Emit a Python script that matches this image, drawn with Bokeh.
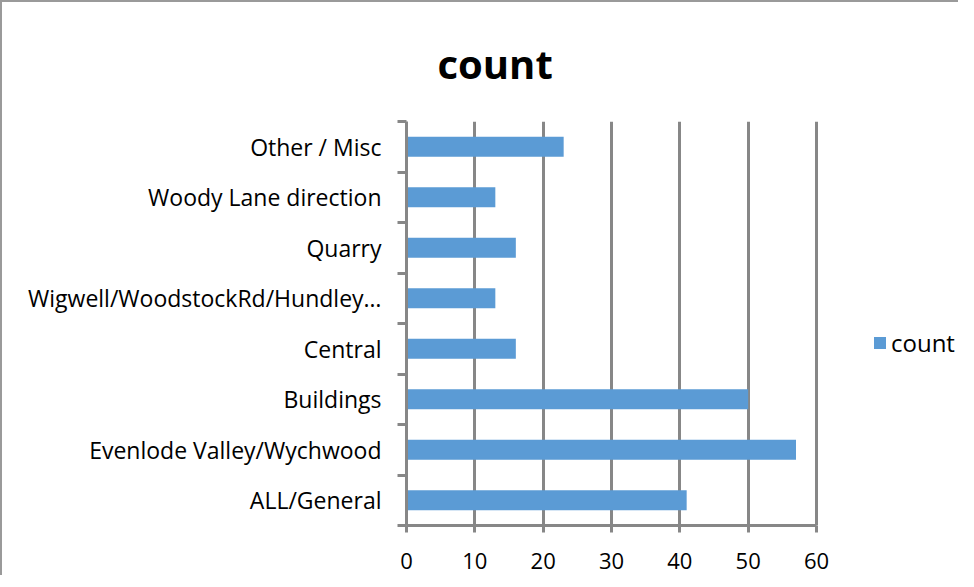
from bokeh.plotting import figure
from bokeh.models import (Range1d, FactorRange, LinearAxis, CategoricalAxis, FixedTicker,
                          Legend, LegendItem, Grid)
from bokeh.embed import file_html
from bokeh.resources import INLINE

# ---- data ----
categories = ["ALL/General", "Evenlode Valley/Wychwood", "Buildings", "Central",
              "Wigwell/WoodstockRd/Hundley\u2026", "Quarry", "Woody Lane direction", "Other / Misc"]
counts = [41, 57, 50, 16, 13, 16, 13, 23]
x_ticks = [0, 10, 20, 30, 40, 50, 60]
x_min, x_max = 0, 60
series_name = "count"
title_text = "count"

FONT = "Open Sans"
GRAY = "#878787"
BLUE = "#5B9BD5"

W, H = 958, 575
BORDER_L, BORDER_R = 404, 4
AXIS_PX = 410  # pixel length of the 0..60 value axis
frame_w = W - BORDER_L - BORDER_R
# frame extends right past the value axis to host the legend
x_end = x_min + (x_max - x_min) * frame_w / AXIS_PX

p = figure(width=W, height=H, output_backend="svg", toolbar_location=None,
           x_range=Range1d(x_min, x_end), y_range=FactorRange(factors=categories),
           x_axis_location=None, y_axis_location=None,
           min_border_left=BORDER_L, min_border_right=BORDER_R, min_border_top=118, min_border_bottom=52)
p.outline_line_color = None
p.background_fill_color = "white"
p.border_fill_color = "white"
p.xgrid.grid_line_color = None
p.ygrid.grid_line_color = None
p.styles = {"border-top": "2px solid #9a9a9a", "border-left": "2px solid #9a9a9a"}

# title
p.title.text = title_text
p.title.align = "left"
p.title.offset = 31
p.title.standoff = 62
p.title.text_font = FONT
p.title.text_font_style = "bold"
p.title.text_font_size = "40px"
p.title.text_color = "black"

# vertical gridlines
grid = Grid(dimension=0, ticker=FixedTicker(ticks=x_ticks), bounds=(x_min, x_max),
            grid_line_color=GRAY, grid_line_width=3)
p.add_layout(grid)

# bars
r = p.hbar(y=categories, right=counts, left=0, height=0.4, fill_color=BLUE, line_color=None)

# y axis with ticks at category boundaries (adjacent to frame)
yt = LinearAxis(ticker=FixedTicker(ticks=list(range(len(categories) + 1))),
                axis_line_color=GRAY, axis_line_width=3,
                major_tick_out=9, major_tick_in=0, major_tick_line_color=GRAY, major_tick_line_width=3,
                minor_tick_line_color=None, major_label_text_font_size="0px",
                major_label_text_alpha=0, major_label_standoff=0)
p.add_layout(yt, "left")

# category labels axis
yc = CategoricalAxis(axis_line_color=None, major_tick_line_color=None, major_tick_out=0,
                     major_tick_in=0, major_label_standoff=16,
                     major_label_text_font=FONT, major_label_text_font_size="23px",
                     major_label_text_color="black")
p.add_layout(yc, "left")

# x axis
xa = LinearAxis(ticker=FixedTicker(ticks=x_ticks), bounds=(x_min, x_max),
                axis_line_color=GRAY, axis_line_width=3,
                major_tick_out=7, major_tick_in=0, major_tick_line_color=GRAY, major_tick_line_width=3,
                minor_tick_line_color=None, major_label_text_font=FONT,
                major_label_text_font_size="22px", major_label_standoff=20,
                major_label_text_color="black")
p.add_layout(xa, "below")

# legend
legend = Legend(items=[LegendItem(label=series_name, renderers=[r])], location=(466, 166),
                padding=0, margin=0, spacing=0, glyph_width=15, glyph_height=15, label_height=15,
                label_standoff=4, border_line_color=None, background_fill_alpha=0,
                label_text_font=FONT, label_text_font_size="24px", label_text_color="black")
p.add_layout(legend, "center")

open("out.html", "w").write(file_html(p, INLINE))
